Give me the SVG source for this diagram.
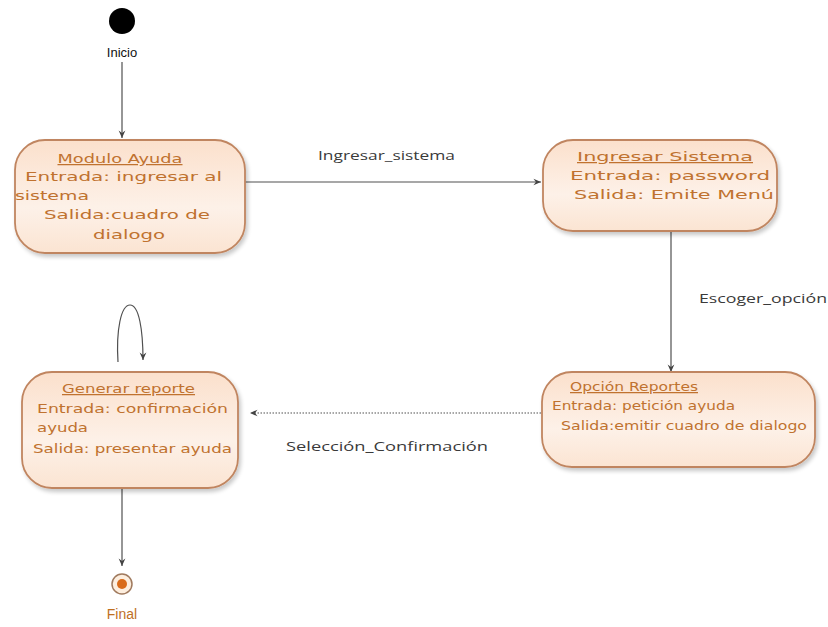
<svg xmlns="http://www.w3.org/2000/svg" width="828" height="627" viewBox="0 0 828 627">
  <defs>
    <linearGradient id="stateFill" x1="0" y1="0" x2="0" y2="1">
      <stop offset="0" stop-color="#fbe0cc"/>
      <stop offset="0.6" stop-color="#fdf1e8"/>
      <stop offset="1" stop-color="#fbe4d2"/>
    </linearGradient>
    <filter id="shadow" x="-10%" y="-10%" width="125%" height="130%">
      <feGaussianBlur in="SourceAlpha" stdDeviation="2"/>
      <feOffset dx="2" dy="3"/>
      <feComponentTransfer><feFuncA type="linear" slope="0.22"/></feComponentTransfer>
      <feMerge><feMergeNode/><feMergeNode in="SourceGraphic"/></feMerge>
    </filter>
    <marker id="arrow" viewBox="0 0 10 10" refX="9" refY="5" markerWidth="7" markerHeight="7" orient="auto">
      <path d="M0,1 L9,5 L0,9 L3,5 Z" fill="#444"/>
    </marker>
  </defs>
  <style>
    .state { fill: url(#stateFill); stroke: #c08560; stroke-width: 1.8; filter: url(#shadow); }
    .st { font-family: "DejaVu Sans", "Liberation Sans", sans-serif; font-size: 12.5px; fill: #c0722f; }
    .title { text-decoration: underline; }
    .lbl { font-family: "Open Sans", "Liberation Sans", Arial, sans-serif; font-size: 12.5px; fill: #3a3a3a; }
    .edge { fill: none; stroke: #505050; stroke-width: 1.2; marker-end: url(#arrow); }
    .dotted { stroke-dasharray: 1.5 1.5; }
  </style>

  <rect width="828" height="627" fill="#ffffff"/>

  <!-- connectors -->
  <g id="connectors">
    <path class="edge" d="M122,62 L122,138"/>
    <path class="edge" d="M245,182 L541,182"/>
    <path class="edge" d="M671,231 L671,372"/>
    <path class="edge dotted" d="M541,413 L250,413"/>
    <path class="edge" d="M118,362 C116,330 121,305 130,305 C139,305 143,330 143,360"/>
    <path class="edge" d="M122,489 L122,566"/>
    <text class="lbl" x="318" y="160" textLength="137" lengthAdjust="spacingAndGlyphs">Ingresar_sistema</text>
    <text class="lbl" x="699" y="303" textLength="128" lengthAdjust="spacingAndGlyphs">Escoger_opción</text>
    <text class="lbl" x="286" y="451" textLength="202" lengthAdjust="spacingAndGlyphs">Selección_Confirmación</text>
  </g>

  <!-- initial state -->
  <g id="inicio">
    <circle cx="122" cy="21" r="13" fill="#000"/>
    <text x="122" y="57" text-anchor="middle" font-family="Liberation Sans, Arial, sans-serif" font-size="13" fill="#111">Inicio</text>
  </g>

  <!-- Modulo Ayuda -->
  <g id="modulo-ayuda">
    <rect class="state" x="15" y="140" width="230" height="113" rx="30" ry="30"/>
    <text class="st title" x="120" y="163" text-anchor="middle" textLength="125" lengthAdjust="spacingAndGlyphs">Modulo Ayuda</text>
    <text class="st" x="25" y="181" textLength="197" lengthAdjust="spacingAndGlyphs">Entrada: ingresar al</text>
    <text class="st" x="15" y="200" textLength="74" lengthAdjust="spacingAndGlyphs">sistema</text>
    <text class="st" x="44" y="219" textLength="166" lengthAdjust="spacingAndGlyphs">Salida:cuadro de</text>
    <text class="st" x="93" y="239" textLength="72" lengthAdjust="spacingAndGlyphs">dialogo</text>
  </g>

  <!-- Ingresar Sistema -->
  <g id="ingresar-sistema">
    <rect class="state" x="543" y="140" width="234" height="91" rx="30" ry="30"/>
    <text class="st title" x="577" y="161" textLength="176" lengthAdjust="spacingAndGlyphs">Ingresar Sistema</text>
    <text class="st" x="570" y="180" textLength="200" lengthAdjust="spacingAndGlyphs">Entrada: password</text>
    <text class="st" x="574" y="199" textLength="200" lengthAdjust="spacingAndGlyphs">Salida: Emite Menú</text>
  </g>

  <!-- Opción Reportes -->
  <g id="opcion-reportes">
    <rect class="state" x="542" y="372" width="273" height="95" rx="30" ry="30"/>
    <text class="st title" x="570" y="391" textLength="128" lengthAdjust="spacingAndGlyphs">Opción Reportes</text>
    <text class="st" x="552" y="410" textLength="183" lengthAdjust="spacingAndGlyphs">Entrada: petición ayuda</text>
    <text class="st" x="561" y="430" textLength="246" lengthAdjust="spacingAndGlyphs">Salida:emitir cuadro de dialogo</text>
  </g>

  <!-- Generar reporte -->
  <g id="generar-reporte">
    <rect class="state" x="22" y="372" width="216" height="116" rx="30" ry="30"/>
    <text class="st title" x="62" y="393" textLength="133" lengthAdjust="spacingAndGlyphs">Generar reporte</text>
    <text class="st" x="37" y="413" textLength="191" lengthAdjust="spacingAndGlyphs">Entrada: confirmación</text>
    <text class="st" x="37" y="432" textLength="51" lengthAdjust="spacingAndGlyphs">ayuda</text>
    <text class="st" x="33" y="453" textLength="199" lengthAdjust="spacingAndGlyphs">Salida: presentar ayuda</text>
  </g>

  <!-- final state -->
  <g id="final">
    <circle cx="122" cy="584" r="10" fill="#fdeede" stroke="#a07a5e" stroke-width="1.5"/>
    <circle cx="122" cy="584" r="5" fill="#d96b1a"/>
    <text x="122" y="619" text-anchor="middle" font-family="Liberation Sans, Arial, sans-serif" font-size="14" fill="#c0701f">Final</text>
  </g>
</svg>
